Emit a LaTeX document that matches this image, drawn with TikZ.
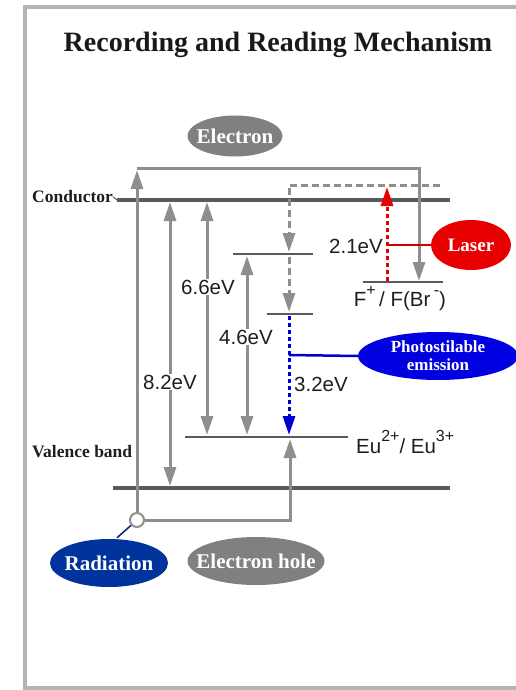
\documentclass[tikz,border=0pt]{standalone}
\usepackage{fontspec}
\setmainfont{Liberation Serif}
\newfontfamily\arialf{Liberation Sans}
\usetikzlibrary{arrows.meta,shapes.geometric}
\definecolor{framegray}{HTML}{B4B4B4}
\definecolor{arrgray}{HTML}{8E8E8E}
\definecolor{bandgray}{HTML}{5A5A5A}
\definecolor{ellgray}{HTML}{808080}
\definecolor{laserred}{HTML}{E80000}
\definecolor{linered}{HTML}{D00000}
\definecolor{photoblue}{HTML}{0000E0}
\definecolor{lineblue}{HTML}{0000D0}
\definecolor{raddblue}{HTML}{00339C}
\definecolor{txt}{HTML}{1E1E1E}
\newcommand{\mysup}[1]{\raisebox{1.05ex}{\fontsize{16}{16}\selectfont #1}}
\tikzset{
  gline/.style={draw=arrgray,line width=3pt,line join=miter},
  tip/.style={-{Triangle[length=19pt,width=12pt]}},
  dtip/.style={{Triangle[length=19pt,width=12pt]}-{Triangle[length=19pt,width=12pt]}},
  band/.style={draw=bandgray,line width=3.5pt},
  lvl/.style={draw=bandgray,line width=2.5pt},
  gdash/.style={draw=arrgray,line width=3pt,dash pattern=on 7pt off 4pt},
  rdot/.style={draw=laserred,line width=3pt,dash pattern=on 4pt off 3pt},
  bdot/.style={draw=lineblue,line width=3pt,dash pattern=on 4pt off 3pt},
  oval/.style={ellipse,inner sep=0pt},
  ovtext/.style={inner sep=0pt,text=white,font=\bfseries\fontsize{21}{23}\selectfont},
  evl/.style={text=txt,font=\arialf\fontsize{20.5}{22}\selectfont,inner sep=1pt},
  evb/.style={evl,fill=white},
  side/.style={text=txt,font=\bfseries\fontsize{17.5}{19}\selectfont,inner sep=0pt},
}
\begin{document}
\begin{tikzpicture}[x=1pt,y=-1pt]
\useasboundingbox (0,0) rectangle (515,690);
\draw[framegray,line width=4pt] (516,7) -- (25,7) -- (25,688) -- (516,688);
\node[font=\bfseries\fontsize{28}{31}\selectfont,text=black!90] (title) at (278,45) {Recording and Reading Mechanism};

% bands
\node[side,anchor=west] (cond) at (32,197) {Conductor};
\node[side,anchor=west] (val) at (32,452) {Valence band};
\coordinate (cL) at (117,200); \coordinate (cR) at (450,200);
\coordinate (vL) at (113,488); \coordinate (vR) at (450,488);
\draw[band] (cL) -- (cR);
\draw[band] (vL) -- (vR);
\draw[bandgray,line width=1pt] (cond.east) -- (cL);
% levels
\coordinate (l2L) at (233,254); \coordinate (l2R) at (313,254);
\coordinate (l3L) at (267,314); \coordinate (l3R) at (313,314);
\coordinate (fL) at (363,282); \coordinate (fR) at (443,282);
\coordinate (euL) at (185,437); \coordinate (euR) at (348,437);
\draw[lvl] (l2L) -- (l2R);
\draw[lvl] (l3L) -- (l3R);
\draw[lvl] (fL) -- (fR);
\draw[lvl] (euL) -- (euR);

% ellipses
\node[oval,fill=ellgray,minimum width=95pt,minimum height=41pt] (electron) at (235,136) {};
\node[ovtext] (electrontxt) at (electron) {Electron};
\node[oval,fill=laserred,minimum width=80pt,minimum height=50pt] (laser) at (471,245) {};
\node[ovtext,font=\bfseries\fontsize{19}{21}\selectfont] (lasertxt) at (laser) {Laser};
\node[oval,fill=photoblue,minimum width=160pt,minimum height=48pt] (photo) at (438,356) {};
\node[ovtext,align=center,font=\bfseries\fontsize{17}{18}\selectfont] (phototxt) at (photo) {Photostilable\\emission};
\node[oval,fill=raddblue,minimum width=118pt,minimum height=48pt] (radiation) at (109,563) {};
\node[ovtext] (radtxt) at (radiation) {Radiation};
\node[oval,fill=ellgray,minimum width=137pt,minimum height=48pt] (hole) at (256,561) {};
\node[ovtext] (holetxt) at (hole) {Electron hole};

% circle
\node[circle,draw=arrgray,fill=white,line width=2pt,minimum size=14pt,inner sep=0pt] (circ) at (137,520) {};
\draw[raddblue!70!black,line width=1.5pt] (radiation.north) ++(8pt,1pt) coordinate (rt) -- (circ);

% radiation loop
\coordinate (topL) at (137,168); \coordinate (topR) at (419,168);
\coordinate (fArr) at (419,281);
\draw[gline,tip] (circ.north) -- (137,170);
\draw[gline,tip] (topL) -- (topR) -- (fArr);
\coordinate (botR) at (290,520);
\coordinate (euArr) at (290,439);
\draw[gline,tip] (circ.east) -- (botR) -- (euArr);

% energy arrows
\draw[gline,dtip] (170,202) -- (170,486);
\draw[gline,dtip] (207,202) -- (207,435);
\draw[gline,dtip] (247,256) -- (247,435);

% dashed path
\coordinate (dR) at (440,185); \coordinate (dC) at (289,185);
\draw[gdash,tip] (dR) -- (dC) -- (289,252);
\draw[gdash,tip] (289,257) -- (289,312);
% blue emission
\draw[bdot,tip,draw=lineblue] (289,316) -- (289,435);
\coordinate (bj) at (289,355);
\draw[lineblue,line width=2.5pt] (bj) -- (photo.west);
% laser
\draw[rdot,tip] (387,281) -- (387,187);
\coordinate (rj) at (387,245);
\draw[linered,line width=2.5pt] (rj) -- (laser.west);

% labels
\node[evl] (e21) at (356,246) {2.1eV};
\node[evb] (e66) at (208,287) {6.6eV};
\node[evb] (e46) at (246,337) {4.6eV};
\node[evb] (e82) at (170,382) {8.2eV};
\node[evl] (e32) at (321,384) {3.2eV};
\node[evl,anchor=north] (flab) at (400,285) {F\mysup{+}\,/ F(Br\,\mysup{-})};
\node[evl,anchor=west] (eulab) at (355,442) {Eu\mysup{2+}/ Eu\mysup{3+}};
\end{tikzpicture}
\end{document}
